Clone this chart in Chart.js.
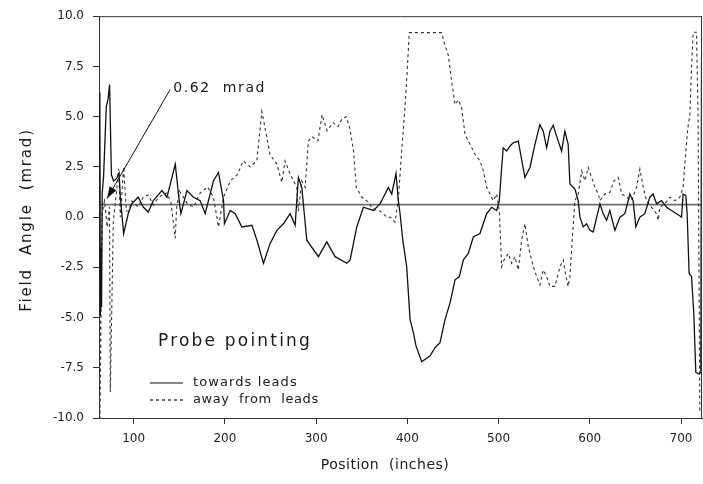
<!DOCTYPE html>
<html>
<head>
<meta charset="utf-8">
<script src="https://cdn.jsdelivr.net/npm/chart.js@4.4.1/dist/chart.umd.min.js"></script>
<style>
    html, body { margin: 0; padding: 0; background: #fff; }
    #grafico { display: block; }
</style>
</head>
<body>
<canvas id="grafico" width="703" height="484"></canvas>
<script>
// Probe pointing towards leads (solid)
const posTowards = [62.4, 62.9, 63.5, 64.2, 64.8, 65.5, 67.0, 70.0, 72.0, 73.6,
    75.6, 78.0, 81.0, 84.0, 85.4, 89.0, 94.1, 98.1, 105.0, 110.5,
    116.0, 121.5, 131.0, 136.5, 145.6, 150.3, 151.8, 158.4, 165.6, 172.9,
    178.4, 187.5, 193.0, 198.5, 199.5, 205.8, 211.3, 218.6, 229.6, 235.1,
    242.3, 249.6, 257.0, 264.2, 271.5, 277.0, 280.6, 284.3, 289.8, 302.5,
    311.7, 320.8, 333.6, 337.2, 344.6, 351.8, 362.8, 370.1, 375.6, 379.2,
    382.9, 387.6, 390.1, 392.0, 395.0, 399.3, 403.0, 406.6, 409.5, 415.8,
    424.9, 430.3, 435.8, 441.3, 446.8, 452.3, 457.0, 461.3, 466.8, 472.3,
    479.6, 487.0, 492.4, 497.9, 500.8, 503.4, 505.1, 508.9, 512.5, 516.1,
    521.6, 528.9, 534.4, 539.9, 545.3, 549.0, 552.7, 556.3, 559.9, 565.4,
    569.1, 572.7, 576.3, 578.2, 583.7, 587.3, 589.2, 592.8, 596.5, 600.1,
    603.7, 611.1, 614.7, 618.4, 622.0, 627.5, 633.0, 638.4, 643.9, 647.5,
    650.5, 654.9, 660.3, 665.8, 669.4, 673.2, 678.6, 684.1, 689.6, 695.1,
    700.6, 702.3, 705.3, 706.7, 708.9, 711.5, 714.0, 716.2, 719.8, 721.7,
    722.5];
const angTowards = [0.6, 6.2, -4.9, -1.5, -4.5, 1.2, 2.0, 5.5, 5.9, 6.6,
    2.1, 1.8, 1.9, 2.2, 1.0, -0.82, 0.18, 0.67, 0.99, 0.5,
    0.25, 0.82, 1.32, 0.99, 2.63, 0.66, 0.17, 1.32, 0.99, 0.82,
    0.17, 1.81, 2.22, 0.82, -0.33, 0.33, 0.17, -0.49, -0.41, -1.15,
    -2.3, -1.31, -0.66, -0.33, 0.17, -0.41, 1.97, 1.48, -1.15, -1.97,
    -1.23, -1.97, -2.3, -2.14, -0.49, 0.49, 0.33, 0.66, 1.15, 1.48,
    1.15, 2.17, 0.82, 0.18, -1.15, -2.47, -5.1, -5.75, -6.41, -7.2,
    -6.9, -6.5, -6.25, -5.1, -4.27, -3.12, -2.96, -2.14, -1.81, -0.99,
    -0.82, 0.17, 0.49, 0.33, 0.82, 2.47, 3.45, 3.29, 3.54, 3.7,
    3.78, 1.97, 2.47, 3.62, 4.6, 4.28, 3.45, 4.28, 4.57, 3.78,
    3.29, 4.28, 3.62, 1.65, 1.4, 0.82, 0, -0.49, -0.33, -0.66,
    -0.74, 0.66, 0.17, -0.16, 0.33, -0.66, 0, 0.17, 1.15, 0.82,
    -0.49, 0, 0.17, 0.99, 1.15, 0.66, 0.82, 0.49, 0.33, 0.17,
    0, 1.15, 1.07, 0.17, -2.8, -2.96, -4.77, -7.73, -7.81, -7.73,
    8.0];

// Probe pointing away from leads (dashed)
const posAway = [62.4, 63.0, 65.5, 68.0, 71.0, 73.5, 74.4, 77.7, 81.0, 83.5,
    85.4, 89.0, 92.0, 94.1, 98.1, 105.0, 110.5, 116.0, 121.5, 126.0,
    131.0, 136.5, 141.0, 145.6, 147.0, 150.3, 158.4, 165.6, 172.9, 181.0,
    187.5, 193.0, 198.5, 206.0, 214.0, 220.0, 227.6, 235.0, 240.5, 249.6,
    257.0, 262.4, 266.0, 271.5, 278.8, 280.6, 284.3, 288.0, 291.5, 295.6,
    302.0, 306.5, 312.0, 318.6, 324.0, 328.5, 333.0, 337.0, 341.0, 344.0,
    350.0, 356.0, 362.5, 370.0, 377.6, 381.0, 386.5, 390.0, 393.8, 397.4,
    400.0, 402.1, 437.6, 441.3, 444.9, 448.6, 452.3, 455.9, 459.6, 463.2,
    468.7, 474.2, 479.6, 483.3, 487.0, 490.6, 494.2, 497.9, 500.8, 503.4,
    505.9, 510.7, 514.4, 518.0, 521.6, 525.3, 528.9, 532.6, 538.1, 541.8,
    545.3, 549.0, 552.7, 556.3, 561.8, 567.3, 570.9, 573.9, 576.3, 578.2,
    581.2, 583.7, 587.3, 591.1, 594.7, 598.3, 602.0, 605.6, 609.3, 611.1,
    616.6, 622.0, 626.5, 631.2, 634.9, 640.3, 645.8, 651.3, 654.9, 658.6,
    662.2, 667.7, 673.2, 675.0, 676.8, 682.3, 687.8, 693.3, 698.7, 702.3,
    705.3, 707.5, 709.7, 711.5, 713.3, 717.0, 718.7, 720.6];
const angAway = [9.2, -10.0, 0.2, 0.8, -0.5, 0.5, -8.7, -0.2, 1.2, 2.4,
    0.0, 2.5, 0.3, 0.3, 0.8, 0.5, 1.0, 1.1, 0.6, 0.9,
    1.1, 1.2, 0.7, -1.05, 0.4, 1.3, 0.7, 0.5, 1.2, 1.5,
    1.0, -0.49, 1.0, 1.8, 2.14, 2.8, 2.5, 2.8, 5.26, 3.1,
    2.64, 1.73, 2.8, 2.14, 1.48, 0.3, 1.8, 1.48, 3.78, 4.0,
    3.8, 5.1, 4.3, 4.7, 4.5, 4.9, 5.0, 4.4, 3.3, 1.48,
    1.0, 0.8, 0.4, 0.3, 0.0, 0.0, -0.25, 0.82, 3.3, 5.43,
    7.4, 9.18, 9.18, 8.55, 8.06, 6.74, 5.6, 5.84, 5.43, 4.11,
    3.62, 3.13, 2.8, 2.3, 1.48, 1.15, 0.82, 1.15, 0.33, -2.47,
    -2.14, -1.81, -2.3, -1.97, -2.63, -1.15, -0.33, -1.48, -2.47, -2.96,
    -3.37, -2.63, -2.96, -3.45, -3.45, -2.47, -2.14, -2.96, -3.45, -2.96,
    -0.82, 0.82, 1.15, 2.3, 1.81, 2.47, 1.97, 1.48, 1.15, 0.82,
    1.15, 1.23, 1.81, 1.97, 1.15, 0.99, 0.82, 1.48, 2.39, 1.48,
    0.82, 0.49, 0.17, -0.16, 0.49, 0.66, 0.99, 0.82, 0.99, 1.48,
    3.29, 4.44, 5.1, 7.4, 9.2, 9.2, 5.0, -9.7];

const xTicks = [100, 200, 300, 400, 500, 600, 700];
const yTicks = [-10, -7.5, -5, -2.5, 0, 2.5, 5, 7.5, 10];
const xMin = 62;
const xMax = 723;
const nivelMedio = 0.62;
const textoNivel = '0.62  mrad';
const setaInicio = [140, 6.35];
const setaPonta = [70.8, 0.92];

const fonte = '"DejaVu Sans", sans-serif';

function pares(xs, ys) {
    return xs.map((x, i) => ({ x, y: ys[i] }));
}

function textoEspacado(ctx, texto, x, y, tamanho, espaco) {
    ctx.font = `${tamanho}px ${fonte}`;
    ctx.letterSpacing = `${espaco}px`;
    ctx.fillText(texto, x, y);
    ctx.letterSpacing = '0px';
}

const extrasPlugin = {
    id: 'extras',
    afterDraw(chart) {
        const { ctx, chartArea: area, scales: { x, y } } = chart;
        ctx.save();

        // top and right frame
        ctx.strokeStyle = '#333';
        ctx.lineWidth = 1;
        ctx.beginPath();
        ctx.moveTo(area.left, area.top + 0.5);
        ctx.lineTo(area.right, area.top + 0.5);
        ctx.moveTo(area.right - 0.5, area.top);
        ctx.lineTo(area.right - 0.5, area.bottom);
        ctx.stroke();

        // arrow to the 0.62 line
        const x0 = x.getPixelForValue(setaInicio[0]);
        const y0 = y.getPixelForValue(setaInicio[1]);
        const x1 = x.getPixelForValue(setaPonta[0]);
        const y1 = y.getPixelForValue(setaPonta[1]);
        const ang = Math.atan2(y1 - y0, x1 - x0);
        ctx.strokeStyle = '#111';
        ctx.fillStyle = '#111';
        ctx.lineWidth = 1;
        ctx.beginPath();
        ctx.moveTo(x0, y0);
        ctx.lineTo(x1, y1);
        ctx.stroke();
        ctx.beginPath();
        ctx.moveTo(x1, y1);
        ctx.lineTo(x1 - 12 * Math.cos(ang) + 4 * Math.sin(ang), y1 - 12 * Math.sin(ang) - 4 * Math.cos(ang));
        ctx.lineTo(x1 - 12 * Math.cos(ang) - 4 * Math.sin(ang), y1 - 12 * Math.sin(ang) + 4 * Math.cos(ang));
        ctx.closePath();
        ctx.fill();

        ctx.fillStyle = '#1a1a1a';
        ctx.textBaseline = 'middle';
        ctx.textAlign = 'left';
        textoEspacado(ctx, textoNivel, x0 + 3, y0 - 1, 14, 1.6);

        // legend
        const lx = area.left + 51;
        textoEspacado(ctx, 'Probe pointing', area.left + 59, 342, 17, 2.2);
        ctx.lineWidth = 1.2;
        ctx.strokeStyle = '#111';
        ctx.beginPath();
        ctx.moveTo(lx, 383);
        ctx.lineTo(lx + 33, 383);
        ctx.stroke();
        ctx.setLineDash([3, 3]);
        ctx.beginPath();
        ctx.moveTo(lx, 400);
        ctx.lineTo(lx + 33, 400);
        ctx.stroke();
        ctx.setLineDash([]);
        textoEspacado(ctx, 'towards leads', lx + 43, 383, 13, 1.1);
        textoEspacado(ctx, 'away  from  leads', lx + 43, 400, 13, 0.6);

        // axis titles
        ctx.textAlign = 'center';
        textoEspacado(ctx, 'Position  (inches)', 385, 465, 14, 0.5);
        ctx.translate(27, 220);
        ctx.rotate(-Math.PI / 2);
        textoEspacado(ctx, 'Field  Angle  (mrad)', 0, 0, 15, 1.8);

        ctx.restore();
    }
};

new Chart(document.getElementById('grafico'), {
    type: 'line',
    data: {
        datasets: [
            {
                label: 'towards leads',
                data: pares(posTowards, angTowards),
                borderColor: '#111',
                borderWidth: 1.3,
                pointRadius: 0,
                tension: 0
            },
            {
                label: 'away from leads',
                data: pares(posAway, angAway),
                borderColor: '#333',
                borderWidth: 1.1,
                borderDash: [3, 3],
                pointRadius: 0,
                tension: 0
            },
            {
                label: '0.62 mrad',
                data: pares([xMin, xMax], [nivelMedio, nivelMedio]),
                borderColor: '#6e6e6e',
                borderWidth: 1.6,
                pointRadius: 0
            }
        ]
    },
    options: {
        responsive: false,
        animation: false,
        layout: { padding: { left: 0, top: 14, right: 1, bottom: 0 } },
        plugins: { legend: { display: false }, tooltip: { enabled: false } },
        scales: {
            x: {
                type: 'linear',
                min: xMin,
                max: xMax,
                afterBuildTicks: (s) => { s.ticks = xTicks.map((v) => ({ value: v })); },
                afterFit: (s) => { s.height = 66; },
                grid: { drawOnChartArea: false, tickLength: 6, color: '#333' },
                border: { color: '#333', width: 1 },
                ticks: {
                    autoSkip: false,
                    maxRotation: 0,
                    padding: 8,
                    color: '#222',
                    font: { family: fonte, size: 12 }
                }
            },
            y: {
                min: -10,
                max: 10,
                afterBuildTicks: (s) => { s.ticks = yTicks.map((v) => ({ value: v })); },
                afterFit: (s) => { s.width = 99; },
                grid: { drawOnChartArea: false, tickLength: 6, color: '#333' },
                border: { color: '#333', width: 1 },
                ticks: {
                    padding: 9,
                    color: '#222',
                    font: { family: fonte, size: 12 },
                    callback: (v) => v.toFixed(1)
                }
            }
        }
    },
    plugins: [extrasPlugin]
});
</script>
</body>
</html>
